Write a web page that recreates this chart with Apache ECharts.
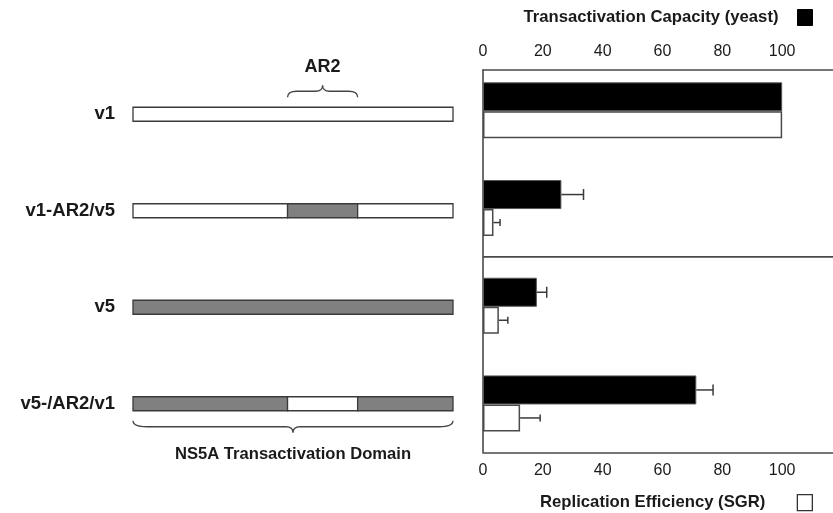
<!DOCTYPE html>
<html>
<head>
<meta charset="utf-8">
<script src="https://cdn.jsdelivr.net/npm/echarts@6/dist/echarts.min.js"></script>
<style>
  html, body { margin: 0; padding: 0; background: #fff; }
  #chart { width: 833px; height: 513px; }
</style>
</head>
<body>
<div id="chart"></div>
<script>
// NS5A constructs, top to bottom
const constructs = ['v1', 'v1-AR2/v5', 'v5', 'v5-/AR2/v1'];

// Domain segments: [start %, end %, construct index, origin (0 = v1, 1 = v5)]
const segments = [
  [0, 100, 0, 0],
  [0, 48.3, 1, 0], [48.3, 70.2, 1, 1], [70.2, 100, 1, 0],
  [0, 100, 2, 1],
  [0, 48.3, 3, 1], [48.3, 70.2, 3, 0], [70.2, 100, 3, 1]
];

// Annotated spans: [start %, end %, construct index]
const braceSpans = [[48.3, 70.2, 0], [0, 100, 3]];
const braceLabels = ['AR2', 'NS5A Transactivation Domain'];

// Measured activities (% of v1)
const transactivation = [100, 26.2, 18.0, 71.3];
const transactivationErr = [0, 7.4, 3.3, 5.6];
const replication = [100, 3.5, 5.3, 12.4];
const replicationErr = [0, 2.2, 3.0, 6.7];

// Row divider between two adjacent constructs: [x start, row above, row below]
const rowDividers = [[0, 1, 2]];

const FONT = "'Liberation Sans', Arial, Helvetica, sans-serif";
const INK = '#1a1a1a';
const LINE = '#4a4a4a';

function renderSegment(params, api) {
  const cat = api.value(2);
  const a = api.coord([api.value(0), cat]);
  const b = api.coord([api.value(1), cat]);
  const h = 14;
  return {
    type: 'rect',
    shape: { x: a[0], y: a[1] - h / 2, width: b[0] - a[0], height: h },
    style: { fill: api.value(3) ? '#808080' : '#ffffff', stroke: '#3a3a3a', lineWidth: 1.3 }
  };
}

function renderBrace(params, api) {
  const cat = api.value(2);
  const a = api.coord([api.value(0), cat]);
  const b = api.coord([api.value(1), cat]);
  const dir = cat === 0 ? -1 : 1;           // above the first construct, below the last
  const x0 = a[0], x1 = b[0], xc = (x0 + x1) / 2;
  const yEnd = a[1] + dir * 17;
  const yMid = yEnd + dir * 6;
  const yTip = yMid + dir * 6;
  const r = dir < 0 ? 9 : 14;
  const t = 7;
  const d = [
    'M', x0, yEnd,
    'Q', x0, yMid, x0 + r, yMid,
    'L', xc - t, yMid,
    'Q', xc, yMid, xc, yTip,
    'Q', xc, yMid, xc + t, yMid,
    'L', x1 - r, yMid,
    'Q', x1, yMid, x1, yEnd
  ].join(' ');
  const labelY = dir < 0 ? a[1] - 47 : a[1] + 51;
  const fontSize = dir < 0 ? 18 : 16.6;
  return {
    type: 'group',
    children: [
      { type: 'path', shape: { pathData: d }, style: { fill: 'none', stroke: '#444', lineWidth: 1.3 } },
      {
        type: 'text',
        style: {
          text: braceLabels[params.dataIndex],
          x: xc, y: labelY, align: 'center', verticalAlign: 'middle',
          fontFamily: FONT, fontWeight: 'bold', fontSize: fontSize, fill: INK
        }
      }
    ]
  };
}

function renderDivider(params, api) {
  const upper = api.coord([api.value(0), api.value(1)]);
  const lower = api.coord([api.value(0), api.value(2)]);
  const y = (upper[1] + lower[1]) / 2;
  const cs = params.coordSys;
  return {
    type: 'line',
    shape: { x1: upper[0], y1: y, x2: cs.x + cs.width, y2: y },
    style: { stroke: LINE, lineWidth: 1.6 }
  };
}

function errorRenderer(offset, cap) {
  return function (params, api) {
    const v = api.value(0), e = api.value(1), cat = api.value(2);
    if (!e) return { type: 'group', children: [] };
    const p0 = api.coord([v, cat]);
    const p1 = api.coord([v + e, cat]);
    const y = p0[1] + offset;
    const style = { stroke: '#3a3a3a', lineWidth: 1.5 };
    return {
      type: 'group',
      children: [
        { type: 'line', shape: { x1: p0[0], y1: y, x2: p1[0], y2: y }, style: style },
        { type: 'line', shape: { x1: p1[0], y1: y - cap / 2, x2: p1[0], y2: y + cap / 2 }, style: style }
      ]
    };
  };
}

const valueAxisCommon = {
  type: 'value', min: 0, max: 120, interval: 20,
  axisTick: { show: false },
  splitLine: { show: false },
  axisLine: { show: true, onZero: false, lineStyle: { color: LINE, width: 1.6 } },
  axisLabel: { fontSize: 16, color: INK, fontFamily: FONT, showMaxLabel: false }
};

const legendText = { fontSize: 16.7, fontWeight: 'bold', color: INK, fontFamily: FONT };
const legendCommon = {
  right: 20, align: 'right', icon: 'rect', itemWidth: 15, itemHeight: 16,
  padding: 0, selectedMode: false
};

const chart = echarts.init(document.getElementById('chart'), null, { renderer: 'canvas' });
chart.setOption({
  animation: false,
  backgroundColor: '#fff',
  textStyle: { fontFamily: FONT },
  grid: [
    // construct diagrams
    { left: 133, width: 320, top: 66, height: 386, outerBoundsMode: 'none' },
    // activity bars
    { left: 483, width: 359, top: 61.5, height: 390.8, outerBoundsMode: 'none' },
    // plot frame (top and left edges)
    { left: 483, width: 359, top: 70, height: 382.3, outerBoundsMode: 'none' }
  ],
  legend: [
    Object.assign({}, legendCommon, {
      top: 9,
      textStyle: Object.assign({}, legendText, { padding: [6, 14, 0, 0] }),
      data: [{ name: 'Transactivation Capacity (yeast)', itemStyle: { color: '#000', borderColor: '#000', borderWidth: 1 } }]
    }),
    Object.assign({}, legendCommon, {
      top: 494,
      textStyle: Object.assign({}, legendText, { padding: [0, 27, 0, 0] }),
      data: [{ name: 'Replication Efficiency (SGR)', itemStyle: { color: '#fff', borderColor: '#333', borderWidth: 1.3 } }]
    })
  ],
  xAxis: [
    { gridIndex: 0, type: 'value', min: 0, max: 100, show: false },
    Object.assign({}, valueAxisCommon, {
      gridIndex: 1, position: 'top',
      axisLine: { show: false },
      axisLabel: Object.assign({}, valueAxisCommon.axisLabel, { margin: 1.5 })
    }),
    Object.assign({}, valueAxisCommon, {
      gridIndex: 1, position: 'bottom',
      axisLabel: Object.assign({}, valueAxisCommon.axisLabel, { margin: 10 })
    }),
    Object.assign({}, valueAxisCommon, {
      gridIndex: 2, position: 'top', axisLabel: { show: false }
    })
  ],
  yAxis: [
    {
      gridIndex: 0, type: 'category', data: constructs, inverse: true,
      axisLine: { show: false }, axisTick: { show: false },
      axisLabel: { fontSize: 18.5, fontWeight: 'bold', color: INK, fontFamily: FONT, margin: 18 }
    },
    {
      gridIndex: 1, type: 'category', data: constructs, inverse: true,
      axisLine: { show: false }, axisTick: { show: false }, axisLabel: { show: false },
      splitLine: { show: false }
    },
    {
      gridIndex: 2, type: 'value', min: 0, max: 1,
      axisLine: { show: true, onZero: false, lineStyle: { color: LINE, width: 1.6 } },
      axisTick: { show: false }, axisLabel: { show: false }, splitLine: { show: false }
    }
  ],
  series: [
    {
      type: 'custom', name: 'segments', xAxisIndex: 0, yAxisIndex: 0,
      data: segments, encode: { x: [0, 1], y: 2 }, renderItem: renderSegment, silent: true
    },
    {
      type: 'custom', name: 'braces', xAxisIndex: 0, yAxisIndex: 0,
      data: braceSpans, encode: { x: [0, 1], y: 2 }, renderItem: renderBrace, silent: true
    },
    {
      type: 'custom', name: 'row divider', xAxisIndex: 2, yAxisIndex: 1,
      data: rowDividers, encode: { x: 0, y: [1, 2] }, renderItem: renderDivider, silent: true
    },
    {
      type: 'bar', name: 'Transactivation Capacity (yeast)', xAxisIndex: 1, yAxisIndex: 1,
      data: transactivation, barWidth: 29, barGap: '0%',
      itemStyle: { color: '#000', borderColor: '#555', borderWidth: 1 }
    },
    {
      type: 'bar', name: 'Replication Efficiency (SGR)', xAxisIndex: 2, yAxisIndex: 1,
      data: replication, barWidth: 27, barGap: '0%',
      itemStyle: { color: '#fff', borderColor: LINE, borderWidth: 1.5 }
    },
    {
      type: 'custom', name: 'transactivation error', xAxisIndex: 1, yAxisIndex: 1,
      data: transactivation.map((v, i) => [v, transactivationErr[i], i]),
      encode: { x: 0, y: 2 }, renderItem: errorRenderer(-13.5, 11), silent: true, z: 3
    },
    {
      type: 'custom', name: 'replication error', xAxisIndex: 2, yAxisIndex: 1,
      data: replication.map((v, i) => [v, replicationErr[i], i]),
      encode: { x: 0, y: 2 }, renderItem: errorRenderer(14.5, 7), silent: true, z: 3
    }
  ]
});
</script>
</body>
</html>
